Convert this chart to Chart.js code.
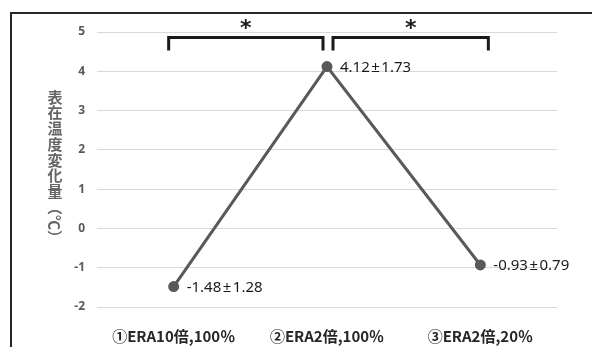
<!DOCTYPE html>
<html>
<head>
<meta charset="utf-8">
<script src="https://cdn.jsdelivr.net/npm/chart.js@4"></script>
<style>
  html, body { margin: 0; padding: 0; background: #fff; }
  #wrap { position: relative; width: 592px; height: 347px; overflow: hidden; }
  #frame { position: absolute; left: 10px; top: 12px; width: 700px; height: 400px; border: 2px solid #262626; box-sizing: border-box; }
  canvas { position: absolute; left: 0; top: 0; }
</style>
</head>
<body>
<div id="wrap">
  <div id="frame"></div>
  <canvas id="chart" width="592" height="347"></canvas>
</div>
<script>
// ===== Data =====
const categories = ["①ERA10倍,100％", "②ERA2倍,100％", "③ERA2倍,20％"];
const meanValues = [-1.48, 4.12, -0.93];
const sdValues = [1.28, 1.73, 0.79];
const yTicks = [5, 4, 3, 2, 1, 0, -1, -2];
const yTitleChars = ["表", "在", "温", "度", "変", "化", "量"];
const yTitleRotated = "（℃）";
// significance brackets: [from index, to index]
const brackets = [[0, 1], [1, 2]];
const bracketTop = 4.86;
const bracketBottom = 4.53;

const gray = "#595959";

// ===== Plugins =====
const valueLabels = {
  id: "valueLabels",
  afterDatasetsDraw(chart) {
    const { ctx } = chart;
    const meta = chart.getDatasetMeta(0);
    ctx.save();
    ctx.font = "15px 'Noto Sans', 'Noto Sans CJK JP'";
    ctx.fillStyle = "#1a1a1a";
    ctx.textBaseline = "middle";
    ctx.textAlign = "left";
    meta.data.forEach((pt, i) => {
      const txt = meanValues[i].toFixed(2) + "\u200A±\u200A" + sdValues[i].toFixed(2);
      ctx.fillText(txt, pt.x + 13, pt.y + 1);
    });
    ctx.restore();
  }
};

const sigBrackets = {
  id: "sigBrackets",
  afterDraw(chart) {
    const { ctx } = chart;
    const x = chart.scales.x, y = chart.scales.y;
    const yt = y.getPixelForValue(bracketTop);
    const yb = y.getPixelForValue(bracketBottom);
    ctx.save();
    ctx.strokeStyle = "#1a1a1a";
    ctx.lineWidth = 3;
    ctx.lineJoin = "miter";
    brackets.forEach(([a, b], k) => {
      const x1 = x.getPixelForValue(a) + (k === 0 ? -5 : 6);
      const x2 = x.getPixelForValue(b) + (k === 0 ? -4 : 8);
      ctx.beginPath();
      ctx.moveTo(x1, yb);
      ctx.lineTo(x1, yt);
      ctx.lineTo(x2, yt);
      ctx.lineTo(x2, yb);
      ctx.stroke();
      ctx.fillStyle = "#1a1a1a";
      ctx.font = "bold 22px 'DejaVu Sans'";
      ctx.textAlign = "center";
      ctx.textBaseline = "middle";
      ctx.fillText("*", (x1 + x2) / 2, yt - 8);
    });
    ctx.restore();
  }
};

const verticalTitle = {
  id: "verticalTitle",
  afterDraw(chart) {
    const { ctx } = chart;
    const cx = 55;
    let cy = 97;
    const step = 15.7;
    ctx.save();
    ctx.fillStyle = "#666";
    ctx.font = "bold 15px 'Noto Sans CJK JP'";
    ctx.textAlign = "center";
    ctx.textBaseline = "middle";
    yTitleChars.forEach(ch => {
      ctx.fillText(ch, cx, cy);
      cy += step;
    });
    ctx.translate(cx, cy - step / 2 + 1);
    ctx.rotate(Math.PI / 2);
    ctx.textAlign = "left";
    ctx.fillText(yTitleRotated, 0, 0);
    ctx.restore();
  }
};

// ===== Chart =====
new Chart(document.getElementById("chart"), {
  type: "line",
  data: {
    labels: categories,
    datasets: [{
      data: meanValues,
      borderColor: gray,
      backgroundColor: gray,
      borderWidth: 3,
      pointRadius: 4,
      pointHoverRadius: 4,
      tension: 0
    }]
  },
  options: {
    responsive: false,
    animation: false,
    layout: { padding: { top: 32, right: 35, left: 0, bottom: 0 } },
    plugins: { legend: { display: false }, tooltip: { enabled: false } },
    scales: {
      x: {
        offset: true,
        grid: { display: false, drawTicks: false },
        border: { display: false },
        ticks: {
          color: "#262626",
          font: { family: "'Noto Sans CJK JP'", size: 15, weight: "bold" },
          padding: 20,
          maxRotation: 0
        },
        afterFit(scale) { scale.height = 40; }
      },
      y: {
        min: -2,
        max: 5,
        afterBuildTicks(scale) { scale.ticks = yTicks.map(v => ({ value: v })); },
        grid: { color: "#d9d9d9", lineWidth: 1, drawTicks: false },
        border: { display: false },
        ticks: {
          color: gray,
          font: { family: "'Noto Sans'", size: 12, weight: "bold" },
          padding: 12
        },
        afterFit(scale) { scale.width = 97; }
      }
    }
  },
  plugins: [valueLabels, sigBrackets, verticalTitle]
});
</script>
</body>
</html>
